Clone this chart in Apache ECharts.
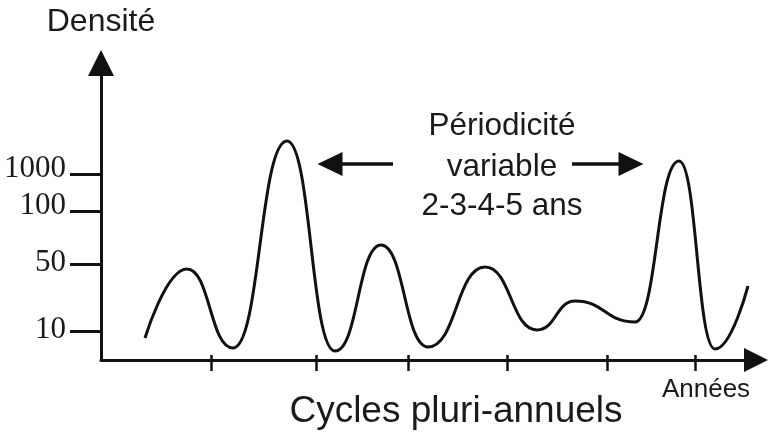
<!DOCTYPE html>
<html>
<head>
<meta charset="utf-8">
<script src="https://cdn.jsdelivr.net/npm/echarts@6/dist/echarts.min.js"></script>
<style>
html,body{margin:0;padding:0;background:#fff;}
#chart{width:768px;height:437px;}
</style>
</head>
<body>
<div id="chart"></div>
<script>
// Curve turning points: x = position along the time axis, y = density level (chart units)
var curveX = [44, 86, 132, 186, 234, 280, 327, 384, 436, 474, 534, 578, 614, 647];
var curveY = [22, 91, 12, 219, 9, 115, 13, 93, 30, 59, 38, 199, 11, 74];
// Y tick positions and their labels
var yTickValues = [29, 96, 149, 186];
var yTickLabels = ['10', '50', '100', '1000'];
// X tick positions (years)
var xTickValues = [110, 215, 307, 406, 506, 594];
// Annotation arrows (y level, from x, to x)
var arrowY = 196;
var leftArrow = [292, 229];
var rightArrow = [471, 530];

var textColor = '#1a1a1a';
var lineColor = '#111';
var sans = 'Liberation Sans, Arial, sans-serif';
var serif = 'Liberation Serif, Times New Roman, serif';

var data = curveX.map(function (x, i) { return [x, curveY[i]]; });

var chart = echarts.init(document.getElementById('chart'), null, {renderer: 'canvas'});
chart.setOption({
  backgroundColor: '#ffffff',
  animation: false,
  grid: {left: 101, right: 12, top: 63, bottom: 77},
  xAxis: [{
    type: 'value', min: 0, max: 655,
    axisLine: {show: true, symbol: ['none', 'triangle'], symbolSize: [24, 24], lineStyle: {color: lineColor, width: 3}},
    axisTick: {show: true, inside: false, length: 11, customValues: xTickValues, lineStyle: {color: lineColor, width: 2.5}},
    axisLabel: {show: false},
    splitLine: {show: false}
  }, {
    type: 'value', min: 0, max: 655, position: 'bottom', gridIndex: 0,
    axisLine: {show: false},
    axisTick: {show: true, inside: true, length: 5, customValues: xTickValues, lineStyle: {color: lineColor, width: 2.5}},
    axisLabel: {show: false},
    splitLine: {show: false}
  }],
  yAxis: {
    type: 'value', min: 0, max: 297,
    name: 'Densité', nameLocation: 'end', nameGap: 25,
    nameTextStyle: {fontFamily: sans, fontSize: 32, color: textColor, align: 'center'},
    axisLine: {show: true, symbol: ['none', 'triangle'], symbolSize: [26, 26], lineStyle: {color: lineColor, width: 3}},
    axisTick: {show: true, inside: false, length: 31, customValues: yTickValues, lineStyle: {color: lineColor, width: 3}},
    axisLabel: {
      show: true, customValues: yTickValues, margin: 35,
      fontFamily: serif, fontSize: 31, color: textColor,
      formatter: function (v) {
        var i = yTickValues.indexOf(v);
        var t = i >= 0 ? yTickLabels[i] : '';
        return (i >= 2 ? '{hi|' : '{lo|') + t + '}';
      },
      rich: {
        hi: {fontFamily: serif, fontSize: 31, color: textColor, padding: [0, 0, 11, 0]},
        lo: {fontFamily: serif, fontSize: 31, color: textColor, padding: [0, 0, 3, 0]}
      }
    },
    splitLine: {show: false}
  },
  series: [{
    type: 'line',
    data: data,
    smooth: 0.5,
    smoothMonotone: 'x',
    showSymbol: false,
    symbol: 'none',
    lineStyle: {color: lineColor, width: 3},
    silent: true,
    markLine: {
      silent: true,
      symbol: ['none', 'triangle'],
      symbolSize: [24, 25],
      label: {show: false},
      lineStyle: {color: lineColor, width: 3.5, type: 'solid'},
      data: [
        [{coord: [leftArrow[0], arrowY]}, {coord: [leftArrow[1], arrowY]}],
        [{coord: [rightArrow[0], arrowY]}, {coord: [rightArrow[1], arrowY]}]
      ]
    }
  }],
  graphic: [
    {type: 'text', x: 502, y: 126, style: {text: 'Périodicité', font: '31.5px ' + sans, fill: textColor, align: 'center', verticalAlign: 'middle'}},
    {type: 'text', x: 502, y: 167, style: {text: 'variable', font: '31.5px ' + sans, fill: textColor, align: 'center', verticalAlign: 'middle'}},
    {type: 'text', x: 502, y: 206, style: {text: '2-3-4-5 ans', font: '31.5px ' + sans, fill: textColor, align: 'center', verticalAlign: 'middle'}},
    {type: 'text', x: 706, y: 390, style: {text: 'Années', font: '26px ' + sans, fill: textColor, align: 'center', verticalAlign: 'middle'}},
    {type: 'text', x: 456, y: 412, style: {text: 'Cycles pluri-annuels', font: '37px ' + sans, fill: textColor, align: 'center', verticalAlign: 'middle'}}
  ]
});
</script>
</body>
</html>
